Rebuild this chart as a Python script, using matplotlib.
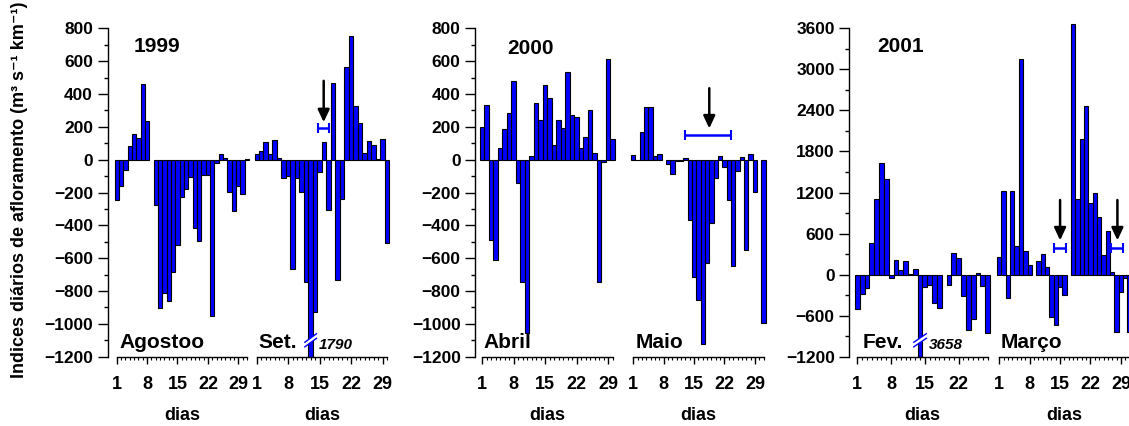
import numpy as np
import matplotlib
matplotlib.use('Agg')
import matplotlib.pyplot as plt
from matplotlib.transforms import blended_transform_factory
from matplotlib.patches import Polygon

plt.rcParams['font.family'] = ['Liberation Sans', 'DejaVu Sans']
plt.rcParams['font.weight'] = 'bold'

nan = np.nan
# ---------------- data (m3 s-1 km-1 daily upwelling indices) ----------------
aug_1999 = [-248, -163, -65, 81, 158, 134, 459, 236, nan, -274, -905, -812, -860, -684,
            -522, -227, -177, -105, -414, -495, -95, -91, -954, -18, 37, 8, -197, -315,
            -163, -207, 6]
sep_1999 = [37, 51, 110, 33, 118, 12, -110, -97, -666, -110, -197, -745, -1790, -928, -75,
            110, -305, 467, -735, -237, 564, 751, 325, 223, 41, 112, 87, 6, 128, -510]
apr_2000 = [199, 331, -487, -609, 73, 185, 284, 479, -140, -745, -1058, 20, 343, 244, 457,
            376, 91, 240, 191, 534, 274, 262, 71, 138, 302, 41, -747, -12, 613, 128]
may_2000 = [28, -4, 166, 323, 323, 22, 32, nan, -28, -85, -6, -6, 8, -365, -712, -854,
            -1122, -629, -386, -110, 20, -45, -248, -650, -69, 16, -552, 37, -199, nan, -993]
feb_2001 = [-508, -280, -190, 463, 1112, 1638, 1404, -46, 215, 60, 200, 5, 75, -3658, -180,
            -150, -415, -486, nan, -155, 318, 245, -312, -812, -654, 28, -166, -848]
mar_2001 = [255, 1222, -341, 1222, 420, 3148, 345, 143, nan, 195, 305, 118, -624, -730,
            -185, -296, nan, 3665, 1105, 1978, 2465, 1043, 1195, 846, 290, 630, 45, -838,
            -256, -45, -838]

year_labels = ['1999', '2000', '2001']
month_labels = [['Agostoo', 'Set.'], ['Abril', 'Maio'], ['Fev.', 'Março']]
month_values = [[aug_1999, sep_1999], [apr_2000, may_2000], [feb_2001, mar_2001]]
major_days = [1, 8, 15, 22, 29]

# broken bars: (panel, month, day, true value label)
breaks = [(0, 1, 13, '1790'), (2, 0, 14, '3658')]
# blue horizontal bars (panel, month, centre day, value, half-width in days)
spans = [(0, 1, 15.9, 195, 1.25), (1, 1, 18.2, 150, 5.3),
         (2, 1, 15.0, 383, 1.35), (2, 1, 28.1, 383, 1.45)]
# arrows (panel, month, day, start value, tip value)
arrows = [(0, 1, 15.9, 480, 228), (1, 1, 18.5, 435, 190),
          (2, 1, 15.0, 1090, 500), (2, 1, 28.2, 1090, 500)]

y_limits = [(-1200, 800), (-1200, 800), (-1200, 3600)]
y_major = [200, 200, 600]
y_minor = [100, 100, 300]
y_label = 'Indices diários de afloramento (m³ s⁻¹ km⁻¹)'

# ---------------- layout (pixels) ----------------
W, H = 1129, 426
AX_TOP, AX_BOT = 28.3, 356.7
RULER = 130.3
spine_px = [107.7, 475.3, 849.3]
month_left_px = [[114.5, 254.5], [480.0, 631.1], [854.9, 997.1]]
month_text_px = [[119.3, 258.3], [483.3, 635.7], [862.3, 1000.7]]
year_px = [(157, 46.7), (530.3, 48), (900.8, 47)]

BLUE = '#0000FF'
fig = plt.figure(figsize=(W / 100, H / 100), dpi=100)

def fx(px):
    return px / W

def fy(py):
    return 1 - py / H

axes = {}
for p in range(3):
    for m in range(2):
        vals = np.array(month_values[p][m], dtype=float)
        n = len(vals)
        days = np.arange(1, n + 1)
        width = RULER * n / (n - 1)
        left = month_left_px[p][m]
        ax = fig.add_axes([fx(left), fy(AX_BOT), width / W, (AX_BOT - AX_TOP) / H])
        axes[(p, m)] = ax
        ax.patch.set_alpha(0)
        ymin, ymax = y_limits[p]
        ax.set_xlim(0.5, n + 0.5)
        ax.set_ylim(ymin, ymax)
        shown = np.maximum(vals, ymin)
        ax.bar(days, shown, width=1.0, color=BLUE, edgecolor='black', linewidth=0.8,
               clip_on=False, zorder=2)
        for s in ['top', 'right']:
            ax.spines[s].set_visible(False)
        ax.spines['bottom'].set_bounds(1, n)
        ax.spines['bottom'].set_linewidth(1.0)
        ax.set_xticks([d for d in major_days if d <= n])
        ax.set_xticks(days, minor=True)
        ax.tick_params(axis='x', which='major', direction='out', length=5, width=1,
                       labelsize=13, pad=9)
        ax.tick_params(axis='x', which='minor', direction='out', length=2.5, width=0.8)
        for lbl in ax.get_xticklabels():
            lbl.set_fontweight('bold')
        if m == 0:
            off = (left - spine_px[p]) * 72 / 100
            ax.spines['left'].set_position(('outward', off))
            ax.spines['left'].set_linewidth(1.0)
            ax.set_yticks(np.arange(ymin, ymax + 1, y_major[p]))
            ax.set_yticks(np.arange(ymin, ymax + 1, y_minor[p]), minor=True)
            ax.tick_params(axis='y', which='major', direction='out', length=7, width=1,
                           labelsize=12.5, pad=3.5)
            ax.tick_params(axis='y', which='minor', direction='out', length=3, width=1)
            for lbl in ax.get_yticklabels():
                lbl.set_fontweight('bold')
        else:
            ax.spines['left'].set_visible(False)
            ax.set_yticks([])
        # month name
        fig.text(fx(month_text_px[p][m]), fy(348), month_labels[p][m], fontsize=15,
                 fontweight='bold', ha='left', va='baseline')
        # 'dias' label centred under the ruler
        cx = left + width * ((1 + n) / 2 - 0.5) / n
        fig.text(fx(cx), fy(416), 'dias', fontsize=13, fontweight='bold',
                 ha='center', va='center')
    fig.text(fx(year_px[p][0]), fy(year_px[p][1]), year_labels[p], fontsize=15,
             fontweight='bold', ha='center', va='center')

fig.text(fx(19.3), fy(190), y_label, rotation=90, fontsize=13, fontweight='bold',
         ha='center', va='center')

# broken bars
for p, m, d, lab in breaks:
    ax = axes[(p, m)]
    tr = blended_transform_factory(ax.transData, ax.transAxes)
    y0, dx, dy, g = 0.05, 1.3, 0.013, 0.007
    poly = Polygon([(d - dx, y0 - dy - g), (d + dx, y0 + dy - g),
                    (d + dx, y0 + dy + g), (d - dx, y0 - dy + g)], closed=True,
                   facecolor='white', edgecolor='none', transform=tr, zorder=5,
                   clip_on=False)
    ax.add_patch(poly)
    for s in (-g, g):
        ax.plot([d - dx, d + dx], [y0 - dy + s, y0 + dy + s], color=BLUE, lw=1.0,
                transform=tr, zorder=6, clip_on=False)
    ax.text(d + 1.9, 0.035, lab, transform=tr, fontsize=11, fontweight='bold',
            style='italic', ha='left', va='center')

for p, m, c, v, h in spans:
    ax = axes[(p, m)]
    ax.errorbar([c], [v], xerr=[h], fmt='none', ecolor=BLUE, elinewidth=1.8,
                capsize=3.5, capthick=1.5, zorder=4, clip_on=False)

for p, m, x, y0, y1 in arrows:
    ax = axes[(p, m)]
    ax.annotate('', xy=(x, y1), xytext=(x, y0), annotation_clip=False,
                arrowprops=dict(arrowstyle='-|>,head_length=0.75,head_width=0.35',
                                mutation_scale=10, color='black', lw=1.8,
                                shrinkA=0, shrinkB=0), zorder=5)

fig.savefig('out.png', dpi=100)
